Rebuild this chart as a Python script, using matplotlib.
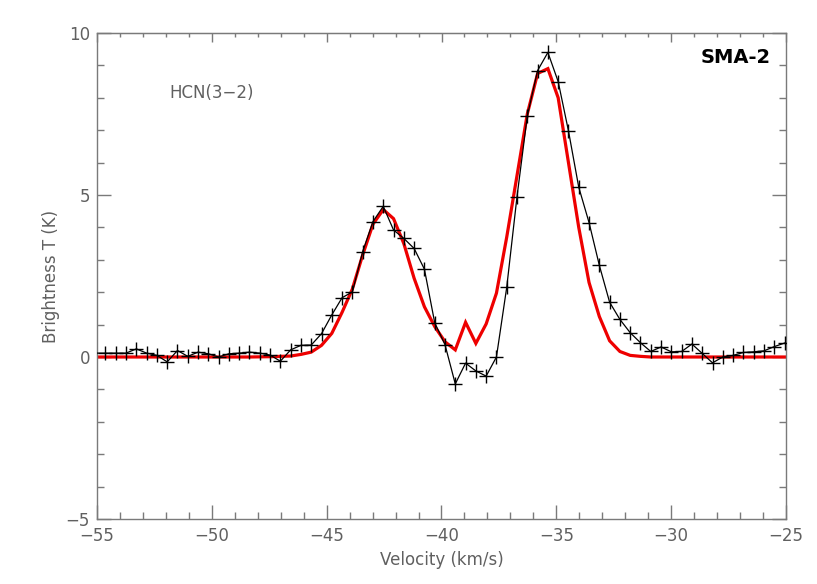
import numpy as np
import matplotlib
matplotlib.use("Agg")
import matplotlib.pyplot as plt
from matplotlib.ticker import MultipleLocator

# channel grid (km/s)
v_start = -55.08
dv = 0.448
obs_T = [0.12,
         0.12, 0.12, 0.12, 0.25, 0.12, 0.05, -0.15, 0.20, 0.02, 0.15,
         0.10, 0.00, 0.10, 0.12, 0.15, 0.12, 0.06, -0.13, 0.22, 0.36,
         0.37, 0.72, 1.30, 1.83, 2.01, 3.25, 4.18, 4.65, 3.92, 3.66,
         3.35, 2.71, 1.06, 0.38, -0.83, -0.19, -0.43, -0.59, 0.00, 2.15,
         4.95, 7.44, 8.84, 9.40, 8.50, 6.98, 5.24, 4.15, 2.83, 1.69,
         1.16, 0.75, 0.44, 0.17, 0.31, 0.16, 0.17, 0.40, 0.11, -0.18,
         0.00, 0.05, 0.14, 0.16, 0.19, 0.32, 0.43]
model_T = [0.0,
           0.0, 0.0, 0.0, 0.0, 0.0, 0.0, 0.0, 0.0, 0.0, 0.0,
           0.0, 0.0, 0.0, 0.0, 0.0, 0.005, 0.01, 0.02, 0.03, 0.08,
           0.15, 0.36, 0.73, 1.38, 2.10, 3.15, 4.10, 4.55, 4.27, 3.50,
           2.43, 1.55, 0.94, 0.47, 0.22, 1.07, 0.42, 1.02, 1.97, 3.70,
           5.60, 7.50, 8.75, 8.90, 8.00, 6.00, 4.00, 2.30, 1.25, 0.50,
           0.17, 0.05, 0.02, 0.0, 0.0, 0.0, 0.0, 0.0, 0.0, 0.0,
           0.0, 0.0, 0.0, 0.0, 0.0, 0.0, 0.0]
velocity = v_start + dv * np.arange(len(obs_T))

line_label = "HCN(3−2)"
source_label = "SMA-2"
x_label = "Velocity (km/s)"
y_label = "Brightness T (K)"

gray = "#7a7a7a"
txtgray = "#606060"

fig = plt.figure(figsize=(8.17, 5.84), dpi=100)
ax = fig.add_axes([97/817, 1-519/584, (786-97)/817, (519-33)/584])

ax.plot(velocity, model_T, color="#ee0000", lw=2.3, zorder=2, solid_joinstyle="miter")
ax.plot(velocity, obs_T, color="black", lw=0.9, marker="+", ms=9.5, mew=1.0,
        markevery=slice(1, None), zorder=3)

ax.set_xlim(-55, -25)
ax.set_ylim(-5, 10)
ax.xaxis.set_major_locator(MultipleLocator(5))
ax.xaxis.set_minor_locator(MultipleLocator(1))
ax.yaxis.set_major_locator(MultipleLocator(5))
ax.yaxis.set_minor_locator(MultipleLocator(1))

for s in ax.spines.values():
    s.set_color(gray)
    s.set_linewidth(1.0)

ax.tick_params(which="both", direction="in", colors=gray, labelcolor=txtgray,
               top=False, right=True, labelsize=12)
ax.tick_params(axis="x", which="major", length=10, width=1.0, pad=6)
ax.tick_params(axis="x", which="minor", length=5, width=1.0)
ax.tick_params(axis="y", which="major", length=10, width=1.0, pad=5)
ax.tick_params(axis="y", which="minor", length=5, width=1.0)

sec = ax.secondary_xaxis("top")
sec.xaxis.set_major_locator(MultipleLocator(5))
sec.xaxis.set_minor_locator(MultipleLocator(1))
sec.tick_params(which="both", direction="in", colors=gray, labeltop=False)
sec.tick_params(which="major", length=6.5, width=1.0)
sec.tick_params(which="minor", length=3, width=1.0)
sec.spines["top"].set_color(gray)

ax.set_xlabel(x_label, fontsize=12, color=txtgray, labelpad=4)
ax.set_ylabel(y_label, fontsize=12, color=txtgray, labelpad=4)

ax.text(-50.0, 8.15, line_label, fontsize=12, color=txtgray, ha="center", va="center")
ax.text(-27.2, 9.25, source_label, fontsize=14, fontweight="bold", color="black",
        ha="center", va="center")

fig.savefig("out.png", dpi=100)
